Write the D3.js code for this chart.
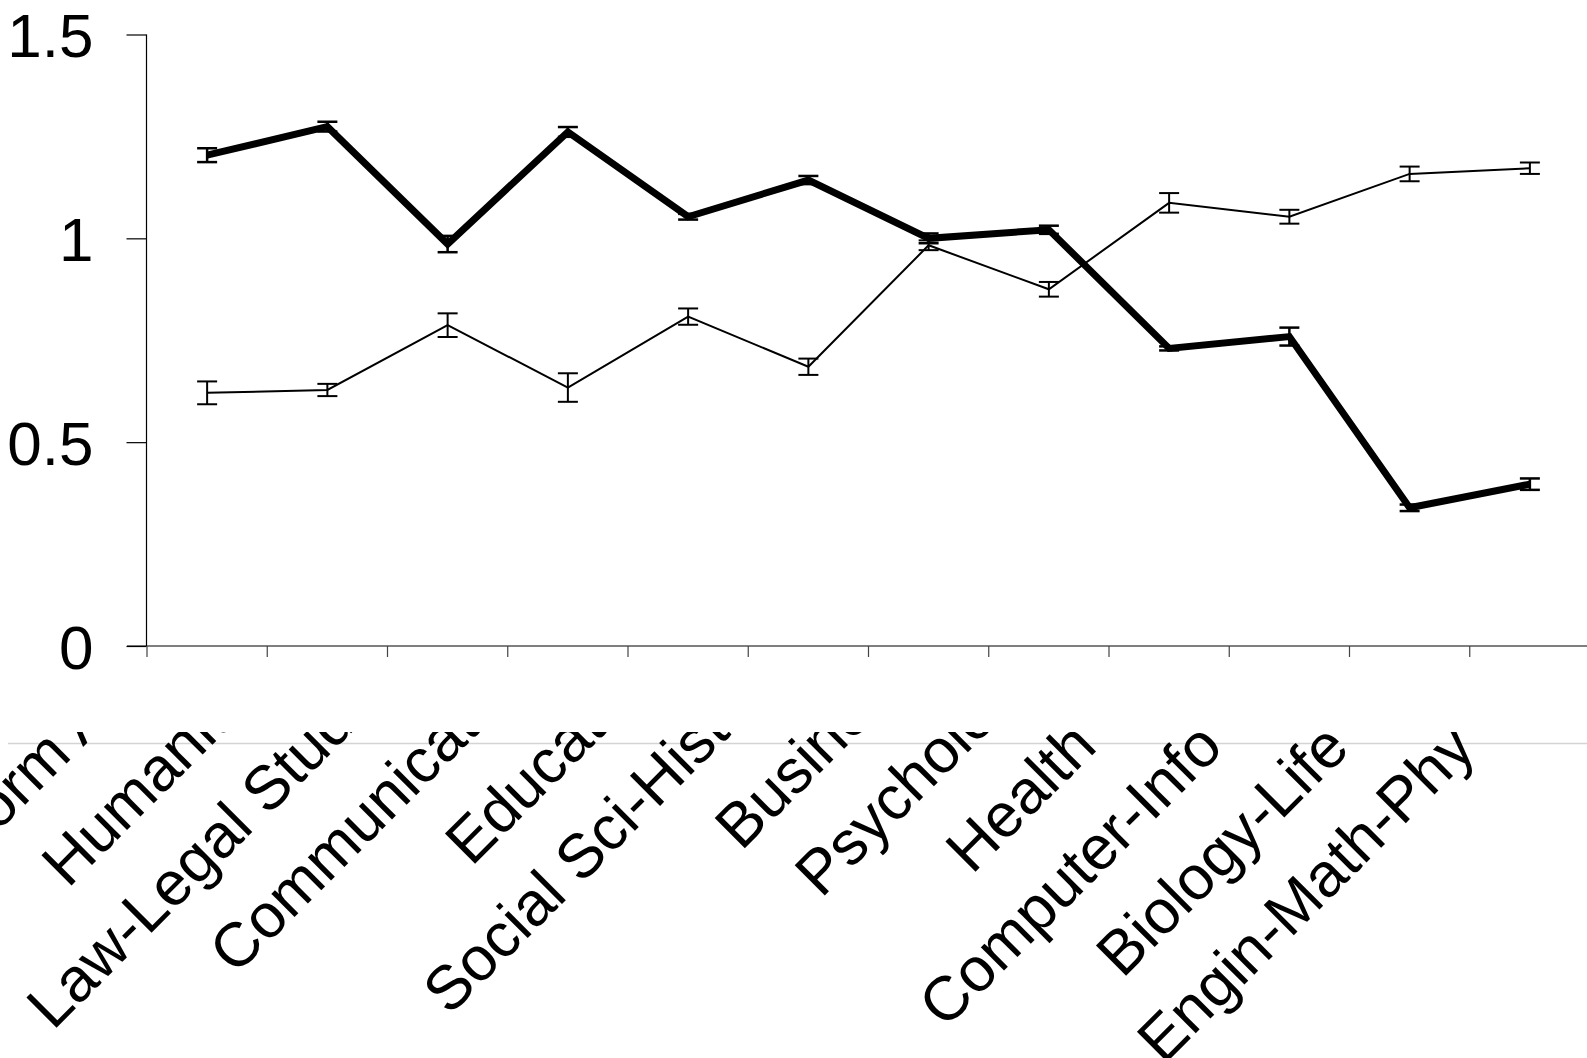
<!DOCTYPE html>
<html>
<head>
<meta charset="utf-8">
<script src="https://cdn.jsdelivr.net/npm/d3@7"></script>
<style>
  body { margin: 0; background: #fff; }
  svg { display: block; font-family: "Liberation Sans", Arial, sans-serif; }
</style>
</head>
<body>
<div id="chart"></div>
<script>
// Categories (fields of study)
const categories = ["Perform Arts", "Humanities", "Law-Legal Studies", "Communication", "Education",
  "Social Sci-History", "Business", "Psychology", "Health Sci", "Computer-Info Sci",
  "Biology-Life Sci", "Engin-Math-Phy Sci"];

// Thick series with its error bar half-widths
const thickValues = [1.204, 1.274, 0.986, 1.261, 1.053, 1.143, 1.000, 1.021, 0.730, 0.759, 0.339, 0.397];
const thickErrors = [0.017, 0.012, 0.020, 0.012, 0.007, 0.010, 0.012, 0.010, 0.005, 0.022, 0.008, 0.014];

// Thin series with its error bar half-widths
const thinValues = [0.621, 0.628, 0.787, 0.634, 0.808, 0.685, 0.983, 0.875, 1.087, 1.053, 1.158, 1.172];
const thinErrors = [0.028, 0.015, 0.029, 0.035, 0.020, 0.020, 0.012, 0.018, 0.024, 0.017, 0.018, 0.014];

const yTicks = [0, 0.5, 1, 1.5];

const width = 1587, height = 1058;

const svg = d3.select("#chart")
  .append("svg")
  .attr("width", width)
  .attr("height", height);

// Scales
const x = d3.scaleBand().domain(categories).range([147, 1590]).paddingInner(0).paddingOuter(0);
const y = d3.scaleLinear().domain([0, 1.5]).range([646, 34.5]);
const cx = d => x(d) + x.bandwidth() / 2;
// the rotated labels sit on a slightly wider, slightly sloping spread than the plot bands
const labelX = d3.scalePoint().domain(categories).range([161, 1551]);
const labelY = d3.scalePoint().domain(categories).range([669, 678]);

// Y axis
const yAxis = svg.append("g")
  .attr("transform", "translate(146.5,0)")
  .call(d3.axisLeft(y).tickValues(yTicks).tickSize(20).tickPadding(33).tickFormat(d3.format("")));
yAxis.select(".domain").attr("d", `M0,${y(1.5)}V${y(0)}`).attr("stroke", "#000").attr("stroke-width", 1.2);
yAxis.selectAll(".tick line").attr("stroke", "#000").attr("stroke-width", 1.2);
yAxis.selectAll(".tick text")
  .attr("font-size", 62)
  .attr("font-family", "'Liberation Sans', Arial, sans-serif")
  .attr("fill", "#000")
  .attr("dy", "0.36em");

// X axis line
svg.append("line")
  .attr("x1", 127).attr("x2", width)
  .attr("y1", y(0)).attr("y2", y(0))
  .attr("stroke", "#000").attr("stroke-width", 1.2);

// Category boundary ticks
svg.selectAll(".xtick")
  .data(categories)
  .enter().append("line")
  .attr("class", "xtick")
  .attr("x1", d => x(d)).attr("x2", d => x(d))
  .attr("y1", y(0)).attr("y2", y(0) + 11)
  .attr("stroke", "#444").attr("stroke-width", 1.2);

// Category labels, clipped along the top like in the original
svg.append("clipPath").attr("id", "labelClip")
  .append("rect").attr("x", 0).attr("y", 732).attr("width", width).attr("height", height - 732);

svg.append("line")
  .attr("x1", 8).attr("x2", width)
  .attr("y1", 743.5).attr("y2", 743.5)
  .attr("stroke", "#d4d4d4").attr("stroke-width", 1.5);

svg.append("g")
  .attr("clip-path", "url(#labelClip)")
  .selectAll("text")
  .data(categories)
  .enter().append("text")
  .attr("transform", d => `translate(${labelX(d)},${labelY(d)}) rotate(-45)`)
  .attr("text-anchor", "end")
  .attr("font-size", 62)
  .attr("fill", "#000")
  .text(d => d);

// Draw one series with error bars
function drawSeries(values, errors, lineWidth, barWidth) {
  const pts = categories.map((c, i) => ({ c, v: values[i], e: errors[i] }));

  const bars = svg.append("g");
  pts.forEach(p => {
    const xc = cx(p.c);
    bars.append("line")
      .attr("x1", xc).attr("x2", xc)
      .attr("y1", y(p.v - p.e)).attr("y2", y(p.v + p.e))
      .attr("stroke", "#000").attr("stroke-width", barWidth);
    [p.v - p.e, p.v + p.e].forEach(v => {
      bars.append("line")
        .attr("x1", xc - 10).attr("x2", xc + 10)
        .attr("y1", y(v)).attr("y2", y(v))
        .attr("stroke", "#000").attr("stroke-width", barWidth);
    });
  });

  svg.append("path")
    .datum(pts)
    .attr("fill", "none")
    .attr("stroke", "#000")
    .attr("stroke-width", lineWidth)
    .attr("stroke-linejoin", "miter")
    .attr("d", d3.line().x(p => cx(p.c)).y(p => y(p.v)));
}

drawSeries(thinValues, thinErrors, 2, 2);
drawSeries(thickValues, thickErrors, 7, 2.5);
</script>
</body>
</html>
